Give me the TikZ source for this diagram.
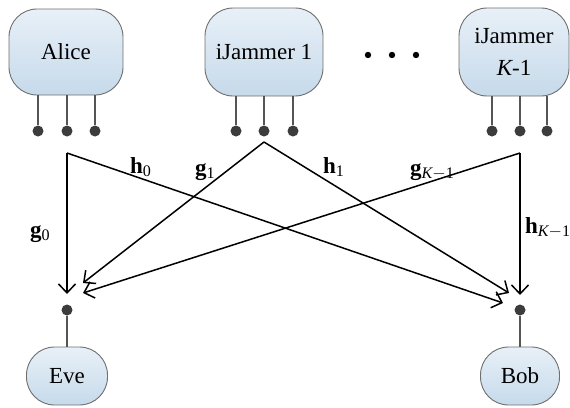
\documentclass[tikz,border=0pt]{standalone}
\usepackage{fontspec}
\setmainfont{Liberation Serif}
\usetikzlibrary{arrows.meta}
\definecolor{boxtop}{HTML}{E8F0F8}
\definecolor{boxbot}{HTML}{C6DAEA}
\definecolor{boxline}{HTML}{6E6E6E}
\definecolor{antline}{HTML}{555555}
\definecolor{antdot}{HTML}{3C3C3C}
\tikzset{
  terminal/.style={
    draw=boxline,
    line width=0.9pt,
    rectangle,
    rounded corners=28pt,
    align=center,
    top color=boxtop,
    bottom color=boxbot,
    font=\fontsize{23}{32}\selectfont
  },
  antenna/.style={
    draw=antline,
    line width=1.5pt
  },
  feed/.style={
    circle,
    fill=antdot,
    inner sep=0pt,
    minimum size=11pt
  },
  link/.style={
    draw=black,
    line width=1.5pt,
    -{Straight Barb[length=9pt,width=17pt]}
  },
  chan/.style={
    anchor=base west,
    inner sep=0pt,
    font=\fontsize{23}{27}\selectfont
  }
}

\begin{document}
\begin{tikzpicture}[x=1pt, y=-1pt]
    \useasboundingbox (0,0) rectangle (570,407);
    % transmitters
    \node[terminal, minimum width=114pt, minimum height=86pt] (alice) at (66,52) {Alice};
    \node[terminal, minimum width=118pt, minimum height=88pt] (jam1) at (264,52) {iJammer 1};
    \node[terminal, minimum width=110pt, minimum height=88pt] (jamK) at (514,52) {iJammer\\{\itshape K}-1};
    \foreach \x in {368,392,416}
        \fill (\x,55) circle (3.2pt);
    % receivers
    \node[terminal, minimum width=81pt, minimum height=58pt] (eve) at (67,376) {Eve};
    \node[terminal, minimum width=79pt, minimum height=58pt] (bob) at (520,376) {Bob};

    % antennas
    \foreach \x/\n in {38/1,67/2,95/3} {
        \node[feed] (alice\n) at (\x,131) {};
        \draw[antenna] (alice\n) -- (alice\n |- alice.south);
    }
    \foreach \x/\n in {236/1,264/2,293/3} {
        \node[feed] (jam1\n) at (\x,131) {};
        \draw[antenna] (jam1\n) -- (jam1\n |- jam1.south);
    }
    \foreach \x/\n in {492/1,520/2,547/3} {
        \node[feed] (jamK\n) at (\x,131) {};
        \draw[antenna] (jamK\n) -- (jamK\n |- jamK.south);
    }
    \node[feed] (evefeed) at (67,310) {};
    \draw[antenna] (evefeed) -- (eve.north);
    \node[feed] (bobfeed) at (520,310) {};
    \draw[antenna] (bobfeed) -- (bob.north);

    % channel end points
    \coordinate (sA) at (67,153);
    \coordinate (s1) at (264,142);
    \coordinate (sK) at (520,153);
    \coordinate (eA) at (67,294);
    \coordinate (e1) at (83,283);
    \coordinate (eK) at (83,293);
    \coordinate (bA) at (503,303);
    \coordinate (b1) at (509,293);
    \coordinate (bK) at (520,295);

    \draw[link] (sA) -- (eA);
    \draw[link] (sA) -- (bA);
    \draw[link] (s1) -- (e1);
    \draw[link] (s1) -- (b1);
    \draw[link] (sK) -- (eK);
    \draw[link] (sK) -- (bK);

    % channel labels
    \node[chan] (lh0) at (130,173) {$\mathbf{h}_{\mathrm{0}}$};
    \node[chan] (lg1) at (195,175) {$\mathbf{g}_{\mathrm{1}}$};
    \node[chan] (lh1) at (323,173) {$\mathbf{h}_{\mathrm{1}}$};
    \node[chan] (lgK) at (410,175) {$\mathbf{g}_{\mathit{K}-\mathrm{1}}$};
    \node[chan] (lg0) at (30,237) {$\mathbf{g}_{\mathrm{0}}$};
    \node[chan] (lhK) at (525,233) {$\mathbf{h}_{\mathit{K}-\mathrm{1}}$};
\end{tikzpicture}
\end{document}
